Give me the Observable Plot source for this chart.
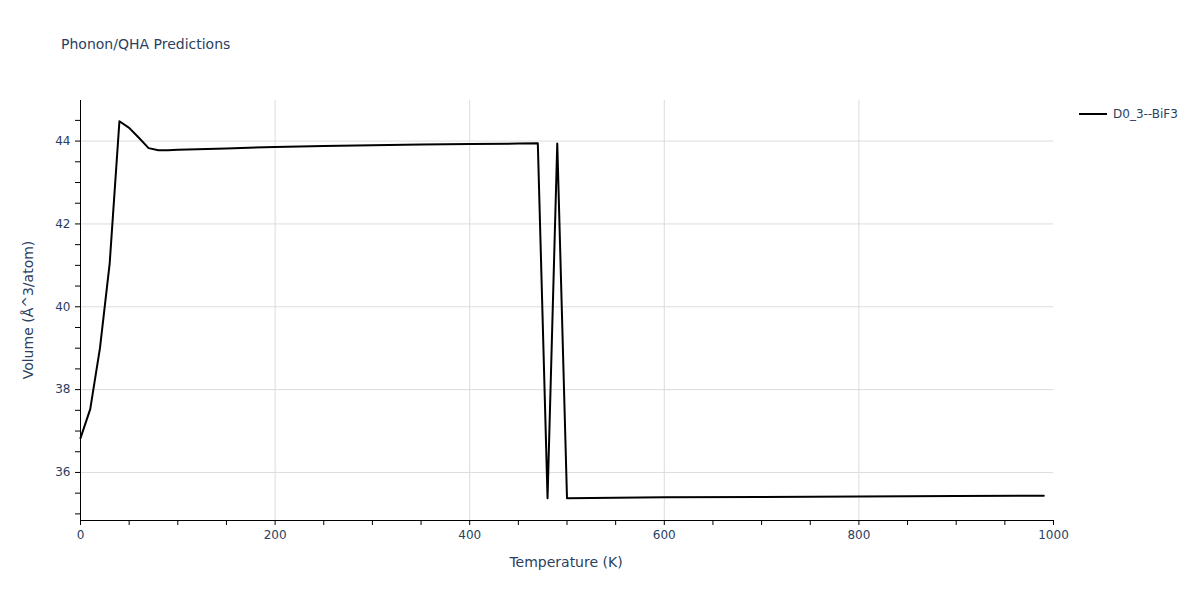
<!DOCTYPE html>
<html>
<head>
<meta charset="utf-8">
<script src="https://cdn.jsdelivr.net/npm/d3@7"></script>
<script src="https://cdn.jsdelivr.net/npm/@observablehq/plot@0.6"></script>
<style>
  body { margin: 0; background: #fff; font-family: "DejaVu Sans", sans-serif; }
  #wrap { position: relative; width: 1200px; height: 600px; }
  .t { position: absolute; color: #2a3f5f; white-space: nowrap; }
</style>
</head>
<body>
<div id="wrap">
  <div class="t" style="left:61px; top:36px; font-size:14px;">Phonon/QHA Predictions</div>
  <div class="t" style="left:566px; top:554px; font-size:14px; transform:translateX(-50%);">Temperature (K)</div>
  <div class="t" style="left:28px; top:310px; font-size:14px; transform:translate(-50%,-50%) rotate(-90deg);">Volume (Å^3/atom)</div>
  <div class="t" style="left:1079px; top:104px; font-size:12px;">
    <svg width="30" height="20" style="vertical-align:middle;"><line x1="0" y1="10" x2="28" y2="10" stroke="#000" stroke-width="2"/></svg><span style="vertical-align:middle; margin-left:4px;">D0_3--BiF3</span>
  </div>
</div>
<script>
const temps = [0,10,20,30,40,50,60,70,80,90,100,150,200,250,300,350,400,450,470,480,490,500,550,600,700,800,900,990];
const volumes = [36.83,37.53,39.0,41.05,44.48,44.32,44.08,43.83,43.78,43.78,43.79,43.82,43.86,43.88,43.90,43.92,43.93,43.94,43.95,35.38,43.94,35.38,35.39,35.40,35.41,35.42,35.43,35.44];
const xMajor = [0,200,400,600,800,1000];
const xGrid = [200,400,600,800];
const yMajor = [36,38,40,42,44];
const seriesName = "D0_3--BiF3";

const data = temps.map((t, i) => ({T: t, V: volumes[i], s: seriesName}));
const yDom = [34.84, 44.98];
const xMinor = d3.range(0, 1001, 50);
const yMinor = d3.range(35, 45, 0.5);
const txt = "#2a3f5f";

const chart = Plot.plot({
  width: 1200,
  height: 600,
  marginLeft: 80,
  marginRight: 147,
  marginTop: 100,
  marginBottom: 80,
  style: {fontFamily: '"DejaVu Sans", sans-serif', background: "transparent"},
  x: {domain: [0, 1000], label: null},
  y: {domain: yDom, label: null},
  marks: [
    Plot.gridX(xGrid, {stroke: "#dcdcdc", strokeOpacity: 1}),
    Plot.gridY(yMajor, {stroke: "#dcdcdc", strokeOpacity: 1}),
    Plot.axisX(xMinor, {tickSize: 5, stroke: "#000", tickFormat: () => "", label: null}),
    Plot.axisX(xMajor, {tickSize: 5, tickPadding: 5, stroke: "none", fill: txt, fontSize: 12, label: null, tickFormat: d3.format("d")}),
    Plot.axisY(yMinor, {tickSize: 5, stroke: "#000", tickFormat: () => "", label: null}),
    Plot.axisY(yMajor, {tickSize: 5, tickPadding: 5, stroke: "none", fill: txt, fontSize: 12, label: null, tickFormat: d3.format("d")}),
    Plot.ruleX([0], {stroke: "#000", strokeWidth: 1}),
    Plot.ruleY([yDom[0]], {stroke: "#000", strokeWidth: 1}),
    Plot.line(data, {x: "T", y: "V", stroke: "#000", strokeWidth: 2})
  ]
});
chart.style.position = "absolute";
chart.style.left = "0";
chart.style.top = "0";
document.getElementById("wrap").prepend(chart);
</script>
</body>
</html>
